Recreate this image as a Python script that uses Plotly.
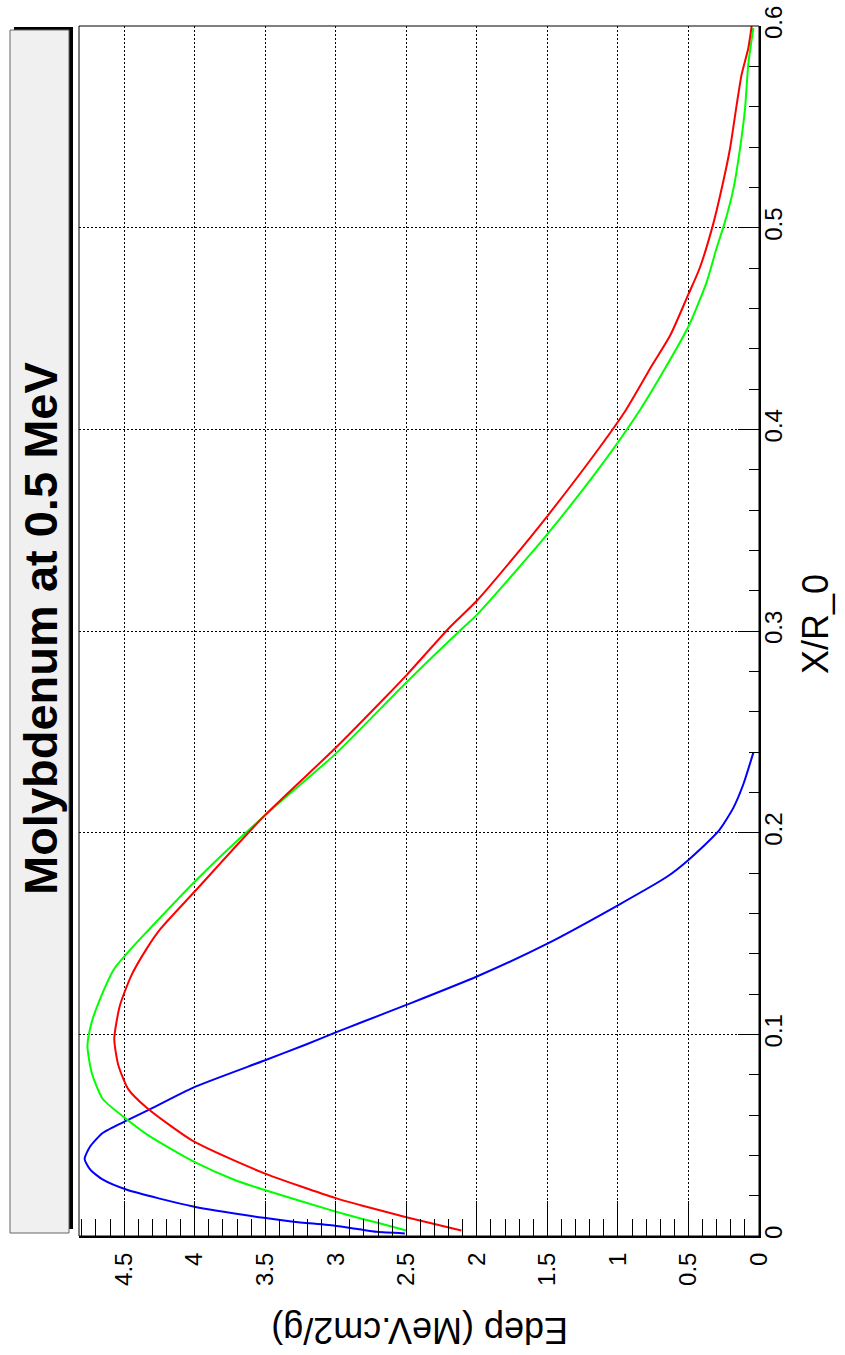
import plotly.graph_objects as go

# ---- data (X/R_0 , Edep) ----
blue_x = [0.0013, 0.0021, 0.0033, 0.0050, 0.0071, 0.0090, 0.0146, 0.0229, 0.0279, 0.0329,
          0.0382, 0.0445, 0.0512, 0.0573, 0.0624, 0.0736, 0.0869, 0.0947, 0.1010, 0.1056,
          0.1146, 0.1287, 0.1450, 0.1640, 0.1780, 0.1865, 0.2006, 0.2123, 0.2240, 0.2397]
blue_e = [2.51, 2.71, 2.83, 2.995, 3.30, 3.51, 4.01, 4.48, 4.65, 4.74,
          4.78, 4.74, 4.65, 4.48, 4.33, 4.01, 3.51, 3.22, 3.00, 2.83,
          2.50, 2.00, 1.50, 1.00, 0.655, 0.50, 0.289, 0.182, 0.111, 0.04]

green_x = [0.0027, 0.0063, 0.0088, 0.0121, 0.0229, 0.0279, 0.0370, 0.0495, 0.0578, 0.0678,
           0.0810, 0.0943, 0.1060, 0.1176, 0.1325, 0.1425, 0.1508, 0.1757, 0.2081, 0.2392,
           0.2745, 0.3015, 0.3080, 0.3300, 0.3480, 0.3810, 0.4100, 0.4315, 0.4510, 0.4730,
           0.4900, 0.5020, 0.5190, 0.5390, 0.5590, 0.5810, 0.5990]
green_e = [2.50, 2.69, 2.83, 3.00, 3.51, 3.72, 4.01, 4.32, 4.48, 4.65,
           4.73, 4.76, 4.73, 4.67, 4.57, 4.45, 4.34, 4.00, 3.51, 3.00,
           2.50, 2.10, 2.00, 1.72, 1.50, 1.13, 0.84, 0.655, 0.50, 0.371,
           0.30, 0.245, 0.182, 0.135, 0.099, 0.076, 0.04]

red_x = [0.0027, 0.0093, 0.0154, 0.0188, 0.0312, 0.0470, 0.0636, 0.0727, 0.0844,
         0.0977, 0.1143, 0.1290, 0.1425, 0.1525, 0.1708, 0.2081, 0.2421, 0.2670, 0.2780,
         0.3020, 0.3150, 0.3380, 0.3570, 0.3910, 0.4100, 0.4315, 0.4465, 0.4670, 0.4800,
         0.5020, 0.5230, 0.5390, 0.5610, 0.5760, 0.5890, 0.6000]
red_e = [2.11, 2.50, 2.83, 3.00, 3.51, 4.01, 4.34, 4.47, 4.54,
         4.57, 4.53, 4.45, 4.34, 4.24, 4.00, 3.51, 3.00, 2.65, 2.50,
         2.19, 2.00, 1.72, 1.50, 1.13, 0.94, 0.76, 0.63, 0.50, 0.42,
         0.324, 0.253, 0.206, 0.158, 0.123, 0.076, 0.052]

title_text = "Molybdenum at 0.5 MeV"
xtitle = "X/R_0"
ytitle = "Edep (MeV.cm2/g)"

W, H = 845, 1355
L, R, T, B = 79, 759, 26, 1236  # plot frame in pixels


def px(xp):
    return (xp - L) / (R - L)


def py(yp):
    return (B - yp) / (B - T)


FONT = "Liberation Sans, Arial, Helvetica, sans-serif"

fig = go.Figure()
for xs, es, col in [(blue_x, blue_e, "#0000ff"), (green_x, green_e, "#00ff00"), (red_x, red_e, "#ff0000")]:
    fig.add_trace(go.Scatter(x=es, y=xs, mode="lines",
                             line=dict(color=col, width=2, shape="spline", smoothing=0.6),
                             showlegend=False, hoverinfo="skip"))

fig.update_layout(
    width=W, height=H,
    margin=dict(l=L, r=W - R, t=T, b=H - B, autoexpand=False),
    paper_bgcolor="white", plot_bgcolor="white",
    font=dict(family=FONT, color="black"),
    xaxis=dict(range=[4.82, 0], tick0=0, dtick=0.5, ticks="inside", ticklen=35,
               tickwidth=1, tickcolor="black", showline=True, linecolor="black", linewidth=2,
               mirror=False, showgrid=True, gridcolor="black", gridwidth=1, griddash="2px,2px",
               zeroline=False, tickangle=-90, tickfont=dict(size=24), ticklabelstandoff=5,
               automargin=False,
               minor=dict(dtick=0.1, ticks="inside", ticklen=17, tickcolor="black", tickwidth=1,
                          showgrid=False)),
    yaxis=dict(range=[0, 0.6], side="right", tick0=0, dtick=0.1, ticks="inside", ticklen=21,
               tickwidth=1, tickcolor="black", showline=True, linecolor="black", linewidth=2,
               mirror=False, showgrid=True, gridcolor="black", gridwidth=1, griddash="2px,2px",
               zeroline=False, tickangle=-90, tickfont=dict(size=24), ticklabelstandoff=-8,
               automargin=False,
               minor=dict(dtick=0.02, ticks="inside", ticklen=10, tickcolor="black", tickwidth=1,
                          showgrid=False)),
)

shapes = [
    dict(type="rect", xref="paper", yref="paper", x0=0, x1=1, y0=0, y1=1,
         line=dict(color="black", width=1), fillcolor="rgba(0,0,0,0)", layer="above"),
    dict(type="rect", xref="paper", yref="paper", x0=px(14), x1=px(73), y0=py(1229), y1=py(27),
         line=dict(width=0), fillcolor="black", layer="below"),
    dict(type="rect", xref="paper", yref="paper", x0=px(10), x1=px(69), y0=py(1233), y1=py(30),
         line=dict(color="#666666", width=1), fillcolor="#f0f0f0", layer="below"),
]
fig.update_layout(shapes=shapes)

fig.add_annotation(text=title_text, xref="paper", yref="paper", x=px(40), y=py(629),
                   showarrow=False, textangle=-90, xanchor="center", yanchor="middle",
                   font=dict(size=47, family=FONT, weight="bold", color="black"))
fig.add_annotation(text=xtitle, xref="paper", yref="paper", x=px(816), y=py(624),
                   showarrow=False, textangle=-90, xanchor="center", yanchor="middle",
                   font=dict(size=36, family=FONT, color="black"))
fig.add_annotation(text=ytitle, xref="paper", yref="paper", x=px(420), y=py(1331),
                   showarrow=False, textangle=180, xanchor="center", yanchor="middle",
                   font=dict(size=36, family=FONT, color="black"))

fig.write_html("out.html", config={"displayModeBar": False},
               post_script="document.body.style.margin='0px';document.body.style.overflow='hidden';")
